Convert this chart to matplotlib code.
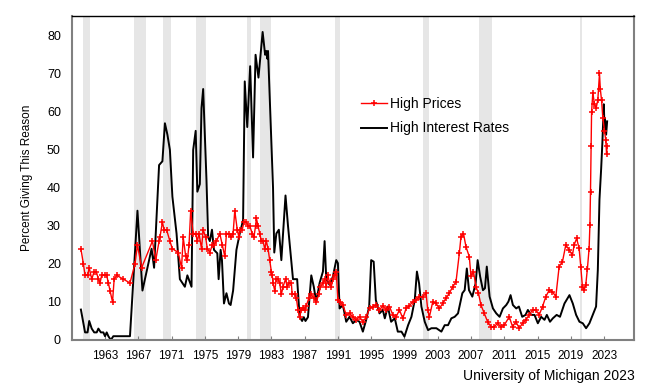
import matplotlib
matplotlib.use("Agg")
import matplotlib.pyplot as plt

plt.rcParams['font.family'] = ['Liberation Sans', 'DejaVu Sans']

# High Prices (red)
price_years = [1960.1, 1960.4, 1960.6, 1960.9, 1961.1, 1961.4, 1961.7, 1961.95, 1962.2, 1962.4,
               1962.6, 1962.95, 1963.2, 1963.4, 1963.6, 1963.9, 1964.1, 1964.4, 1965.2, 1966.0,
               1966.6, 1966.9, 1967.4, 1968.7, 1969.1, 1969.5, 1969.6, 1969.9, 1970.1, 1970.4,
               1970.8, 1971.1, 1971.8, 1972.2, 1972.4, 1972.7, 1972.9, 1973.1, 1973.3, 1973.6,
               1973.9, 1974.1, 1974.3, 1974.6, 1974.8, 1975.1, 1975.3, 1975.6, 1975.9, 1976.1,
               1976.4, 1976.8, 1977.1, 1977.4, 1977.6, 1977.9, 1978.2, 1978.4, 1978.6, 1978.9,
               1979.1, 1979.2, 1979.5, 1979.7, 1980.0, 1980.2, 1980.4, 1980.7, 1980.9, 1981.1,
               1981.2, 1981.4, 1981.6, 1981.8, 1982.0, 1982.2, 1982.4, 1982.6, 1982.8, 1983.0,
               1983.1, 1983.2, 1983.4, 1983.6, 1983.8, 1984.0, 1984.2, 1984.4, 1984.7, 1984.9,
               1985.1, 1985.4, 1985.5, 1985.8, 1986.0, 1986.2, 1986.4, 1986.6, 1986.8, 1987.0,
               1987.2, 1987.5, 1987.8, 1988.1, 1988.4, 1988.7, 1988.9, 1989.2, 1989.4, 1989.6,
               1989.8, 1990.0, 1990.2, 1990.4, 1990.6, 1990.8, 1991.0, 1991.3, 1991.6, 1992.0,
               1992.4, 1992.8, 1993.2, 1993.6, 1994.0, 1994.4, 1994.8, 1995.2, 1995.6, 1996.0,
               1996.4, 1996.8, 1997.2, 1997.6, 1998.0, 1998.4, 1998.8, 1999.2, 1999.6, 2000.0,
               2000.4, 2000.8, 2001.2, 2001.6, 2001.8, 2002.0, 2002.4, 2002.8, 2003.2, 2003.6,
               2004.0, 2004.4, 2004.8, 2005.2, 2005.6, 2005.8, 2006.1, 2006.4, 2006.8, 2007.0,
               2007.3, 2007.6, 2007.9, 2008.2, 2008.6, 2009.0, 2009.4, 2009.8, 2010.2, 2010.6,
               2011.0, 2011.6, 2012.0, 2012.4, 2012.8, 2013.2, 2013.6, 2014.0, 2014.4, 2014.8,
               2015.2, 2015.6, 2016.0, 2016.4, 2016.8, 2017.2, 2017.6, 2018.0, 2018.4, 2018.8,
               2019.2, 2019.4, 2019.7, 2020.0, 2020.2, 2020.4, 2020.6, 2020.8, 2021.0, 2021.2,
               2021.3, 2021.37, 2021.45, 2021.5, 2021.65, 2021.85, 2022.05, 2022.25, 2022.45, 2022.55,
               2022.7, 2022.85, 2023.05, 2023.2, 2023.3, 2023.37]
price_vals = [24, 20, 17, 17, 19, 16, 18, 18, 16, 15,
              17, 17, 17, 15, 13, 10, 16, 17, 16, 15,
              20, 25, 19, 26, 21, 26, 27, 31, 29, 29,
              26, 24, 23, 19, 27, 22, 21, 25, 34, 28,
              28, 26, 28, 24, 29, 27, 24, 23, 25, 25,
              26, 28, 25, 22, 28, 28, 27, 28, 34, 29,
              27, 29, 29, 31, 31, 30, 30, 28, 27, 30,
              32, 30, 28, 26, 26, 24, 26, 24, 21, 18,
              17, 15, 13, 16, 16, 15, 12, 14, 16, 14,
              15, 15, 12, 12, 11, 8, 6, 8, 8.5, 8,
              9, 11, 12, 11, 10, 12, 14, 15, 16, 14,
              17, 15, 14, 16, 17, 18, 10.5, 10, 9.2, 6.6,
              7, 6.1, 5.3, 6.1, 4.8, 6, 8.3, 8.8, 9.2, 7.9,
              9, 7.9, 8.8, 6.6, 6.1, 7.9, 5.7, 8.3, 9, 10.1,
              10.5, 11.4, 11.4, 12.3, 7.9, 6.1, 10, 9.6, 8.3, 9.6,
              11, 12.3, 14, 15.3, 22.8, 27.2, 28, 24.5, 21.9, 16.7,
              18, 14, 12.3, 9.2, 7, 4.8, 3.5, 3.5, 4.4, 3.5,
              3.9, 6.1, 3.5, 4.8, 3.1, 4.4, 5.3, 6.6, 7.9, 7.9,
              6.6, 8.8, 11.4, 13.1, 12.7, 11.4, 19.3, 20.6, 25, 23.7,
              22.3, 25, 26.7, 24.1, 19.3, 14, 13.1, 14.5, 18.8, 24,
              30.2, 39, 51, 60, 65, 62, 61, 63.1, 70.1, 66,
              63, 58.5, 55, 52.6, 49, 51]

# High Interest Rates (black)
rate_years = [1960.1, 1960.6, 1960.9, 1961.1, 1961.4, 1961.7, 1962.0, 1962.2, 1962.5, 1962.8,
              1963.0, 1963.2, 1963.4, 1963.7, 1964.0, 1964.5, 1965.2, 1966.0, 1966.9, 1967.5,
              1968.6, 1968.9, 1969.5, 1969.9, 1970.2, 1970.5, 1970.8, 1971.1, 1971.6, 1972.0,
              1972.6, 1972.9, 1973.4, 1973.6, 1973.9, 1974.1, 1974.4, 1974.6, 1974.8, 1975.2,
              1975.4, 1975.6, 1975.86, 1976.1, 1976.5, 1976.66, 1976.9, 1977.06, 1977.3, 1977.6,
              1977.9, 1978.1, 1978.4, 1978.8, 1979.2, 1979.6, 1979.8, 1980.1, 1980.45, 1980.8,
              1981.1, 1981.45, 1981.95, 1982.25, 1982.4, 1982.5, 1982.6, 1982.9, 1983.2, 1983.35,
              1983.6, 1983.9, 1984.2, 1984.7, 1985.0, 1985.6, 1985.9, 1986.1, 1986.4, 1986.7,
              1986.9, 1987.1, 1987.4, 1987.8, 1988.1, 1988.4, 1988.8, 1989.2, 1989.4, 1989.6,
              1990.0, 1990.4, 1990.8, 1991.0, 1991.2, 1991.6, 1992.0, 1992.4, 1992.8, 1993.2,
              1993.6, 1994.0, 1994.4, 1994.76, 1995.0, 1995.3, 1995.56, 1996.0, 1996.4, 1996.64,
              1997.0, 1997.4, 1997.84, 1998.2, 1998.64, 1999.0, 1999.44, 1999.84, 2000.24, 2000.5,
              2000.76, 2001.04, 2001.44, 2001.84, 2002.24, 2002.84, 2003.44, 2003.84, 2004.24, 2004.64,
              2005.04, 2005.44, 2005.96, 2006.24, 2006.5, 2006.76, 2007.16, 2007.56, 2007.8, 2008.1,
              2008.44, 2008.68, 2008.9, 2009.24, 2009.64, 2010.04, 2010.44, 2010.84, 2011.24, 2011.5,
              2011.76, 2012.04, 2012.44, 2012.76, 2013.16, 2013.56, 2013.84, 2014.24, 2014.64, 2015.04,
              2015.44, 2015.84, 2016.12, 2016.5, 2016.84, 2017.3, 2017.7, 2018.24, 2018.84, 2019.24,
              2019.64, 2020.04, 2020.44, 2020.84, 2021.24, 2021.64, 2022.04, 2022.25, 2022.45, 2022.65,
              2022.8, 2022.97, 2023.05, 2023.1, 2023.25, 2023.37]
rate_vals = [8, 2, 2, 5, 3, 2, 2, 3, 2, 2,
             1, 2, 1, 0, 1, 1, 1, 1, 34, 13,
             24, 19, 46, 47, 57, 54, 50, 37.7, 28, 16,
             14, 17, 14, 50, 55, 39, 41, 61, 66, 42,
             27, 26, 29, 23.7, 22.8, 16, 23.7, 21, 9.6, 12.3,
             9.6, 9.2, 13, 23.7, 28, 31.5, 68, 56, 72, 48,
             75, 69, 81, 75, 76, 74, 76, 58, 40, 23,
             28, 29, 21, 38, 30, 16, 16, 16, 6, 5,
             6, 5, 6, 17, 14, 10, 15, 18, 26, 16,
             14.5, 16.7, 21, 20.2, 8.3, 9.2, 4.8, 6.1, 4.4, 5.3,
             4.8, 2.2, 5.3, 8.8, 21, 20.6, 10.5, 7, 7.9, 5.7,
             8.8, 4.8, 5.7, 2.2, 2.2, 0.9, 3.9, 6.1, 10.5, 18,
             14.9, 8.8, 4.8, 2.6, 3.1, 3.1, 2.2, 3.9, 3.9, 5.7,
             6.1, 7, 12.3, 13.1, 18.8, 13.1, 11.4, 14.9, 21, 16.7,
             13.1, 13.6, 19.3, 11.4, 8.3, 7, 6.1, 8.3, 9.2, 10.1,
             11.8, 9.2, 8.3, 8.8, 6.1, 6.6, 7.9, 6.6, 6.6, 4.4,
             6.1, 5.3, 6.6, 4.8, 5.7, 6.6, 6.1, 9.6, 11.8, 9.6,
             6.6, 4.8, 4.4, 3.1, 4.4, 6.6, 8.8, 18.4, 37, 45,
             52, 62, 56, 58.3, 54, 57.5]

# Recession periods (start, end)
recessions = [(1960.3, 1961.2), (1966.5, 1967.9), (1970.0, 1970.9), (1973.9, 1975.2),
              (1980.1, 1980.5), (1981.6, 1982.9), (1990.6, 1991.2), (2001.2, 2001.9),
              (2007.96, 2009.5), (2020.1, 2020.3)]

tick_years = list(range(1963, 2024, 4))
y_ticks = [0, 10, 20, 30, 40, 50, 60, 70, 80]

W, H = 664, 392
fig = plt.figure(figsize=(W / 100, H / 100), dpi=100)
ax = fig.add_axes([72 / W, (H - 340) / H, (634 - 72) / W, (340 - 16) / H])

for s, e in recessions:
    ax.axvspan(s, e, color='#e6e6e6', lw=0, zorder=0)

ax.plot(price_years, price_vals, color='#ff0000', lw=1.0, marker='+', ms=4, mew=1.1,
        label='High Prices', zorder=3)
ax.plot(rate_years, rate_vals, color='black', lw=1.4, label='High Interest Rates', zorder=2)

ax.set_xlim(1959.03, 2026.6)
ax.set_ylim(0, 85.2)
ax.set_xticks(tick_years)
ax.set_xticklabels([str(y) for y in tick_years], fontsize=8.5)
ax.set_yticks(y_ticks)
ax.set_yticklabels([str(v) for v in y_ticks], fontsize=9)
ax.tick_params(axis='x', direction='in', length=3, pad=7, color='#808080')
ax.tick_params(axis='y', direction='out', length=0, pad=8)
ax.set_ylabel('Percent Giving This Reason', fontsize=8.5, labelpad=10)

for side in ['left', 'bottom', 'right']:
    ax.spines[side].set_color('#808080')
    ax.spines[side].set_linewidth(1.5)
ax.spines['top'].set_color('black')
ax.spines['top'].set_linewidth(1.0)

ax.legend(loc='upper left', bbox_to_anchor=(361 / W, (H - 97) / H),
          bbox_transform=fig.transFigure, frameon=False, fontsize=10,
          handlelength=1.9, handletextpad=0.2, labelspacing=0.75,
          borderpad=0, borderaxespad=0)

fig.text(635 / W, (H - 376) / H, 'University of Michigan 2023', fontsize=10,
         ha='right', va='center')

fig.savefig('out.png', dpi=100)
